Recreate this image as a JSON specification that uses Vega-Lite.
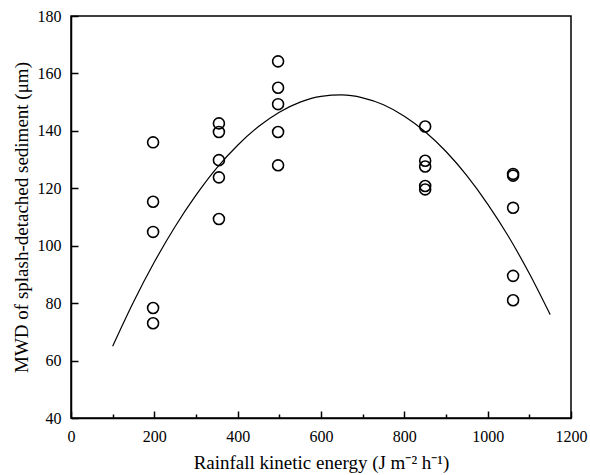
{
  "$schema": "https://vega.github.io/schema/vega-lite/v6.json",
  "width": 500,
  "height": 402,
  "autosize": "none",
  "padding": {"left": 71, "top": 16, "right": 19, "bottom": 57},
  "background": "white",
  "config": {
    "view": {"stroke": "black", "strokeWidth": 1.5},
    "font": "Liberation Serif",
    "axis": {
      "domainColor": "black", "domainWidth": 1.5, "tickColor": "black", "tickWidth": 1.5,
      "labelColor": "black", "titleColor": "black", "labelFont": "Liberation Serif", "titleFont": "Liberation Serif",
      "labelFontSize": 16, "titleFontSize": 19, "titleFontWeight": "normal", "grid": false, "format": "d"
    }
  },
  "datasets": {
    "pts": [
      {"ke": 197, "mwd": 136}, {"ke": 197, "mwd": 115.3}, {"ke": 197, "mwd": 104.8}, {"ke": 197, "mwd": 78.3}, {"ke": 197, "mwd": 73},
      {"ke": 355, "mwd": 142.6}, {"ke": 355, "mwd": 139.6}, {"ke": 355, "mwd": 129.8}, {"ke": 355, "mwd": 123.8}, {"ke": 355, "mwd": 109.3},
      {"ke": 497, "mwd": 164.2}, {"ke": 497, "mwd": 155}, {"ke": 497, "mwd": 149.3}, {"ke": 497, "mwd": 139.6}, {"ke": 497, "mwd": 128},
      {"ke": 850, "mwd": 141.5}, {"ke": 850, "mwd": 129.6}, {"ke": 850, "mwd": 127.6}, {"ke": 850, "mwd": 120.8}, {"ke": 850, "mwd": 119.6},
      {"ke": 1061, "mwd": 125}, {"ke": 1061, "mwd": 124.4}, {"ke": 1061, "mwd": 113.2}, {"ke": 1061, "mwd": 89.5}, {"ke": 1061, "mwd": 81}
    ],
    "fit": [
      {"ke": 100, "mwd": 65.0}, {"ke": 150, "mwd": 80.4}, {"ke": 200, "mwd": 94.3}, {"ke": 250, "mwd": 106.7},
      {"ke": 300, "mwd": 117.6}, {"ke": 350, "mwd": 127.1}, {"ke": 400, "mwd": 135.0}, {"ke": 450, "mwd": 141.5},
      {"ke": 500, "mwd": 146.5}, {"ke": 550, "mwd": 150.0}, {"ke": 600, "mwd": 152.0}, {"ke": 650, "mwd": 152.5},
      {"ke": 700, "mwd": 151.5}, {"ke": 750, "mwd": 149.1}, {"ke": 800, "mwd": 145.1}, {"ke": 850, "mwd": 139.7},
      {"ke": 900, "mwd": 132.8}, {"ke": 950, "mwd": 124.4}, {"ke": 1000, "mwd": 114.5}, {"ke": 1050, "mwd": 103.2},
      {"ke": 1100, "mwd": 90.3}, {"ke": 1150, "mwd": 76.0}
    ]
  },
  "layer": [
    {
      "data": {"name": "fit"},
      "mark": {"type": "line", "color": "black", "strokeWidth": 1.2, "interpolate": "monotone"},
      "encoding": {
        "x": {"field": "ke", "type": "quantitative", "scale": {"domain": [0, 1200], "nice": false},
          "axis": {"title": "Rainfall kinetic energy (J m⁻² h⁻¹)", "values": [0,100,200,300,400,500,600,700,800,900,1000,1100,1200],
            "labelExpr": "datum.value % 200 === 0 ? datum.label : ''",
            "tickSize": {"condition": {"test": "datum.value % 200 === 0", "value": -7}, "value": -4},
            "labelPadding": 17, "titlePadding": 9, "labelFlush": false}},
        "y": {"field": "mwd", "type": "quantitative", "scale": {"domain": [40, 180], "nice": false, "zero": false},
          "axis": {"title": "MWD of splash-detached sediment (μm)", "values": [40,50,60,70,80,90,100,110,120,130,140,150,160,170,180],
            "labelExpr": "datum.value % 20 === 0 ? datum.label : ''",
            "tickSize": {"condition": {"test": "datum.value % 20 === 0", "value": -7}, "value": -4},
            "labelPadding": 17, "titlePadding": 6, "labelFlush": false}}
      }
    },
    {
      "data": {"name": "pts"},
      "mark": {"type": "point", "shape": "circle", "filled": false, "stroke": "black", "strokeWidth": 1.6, "size": 120, "opacity": 1},
      "encoding": {
        "x": {"field": "ke", "type": "quantitative"},
        "y": {"field": "mwd", "type": "quantitative"}
      }
    }
  ]
}
